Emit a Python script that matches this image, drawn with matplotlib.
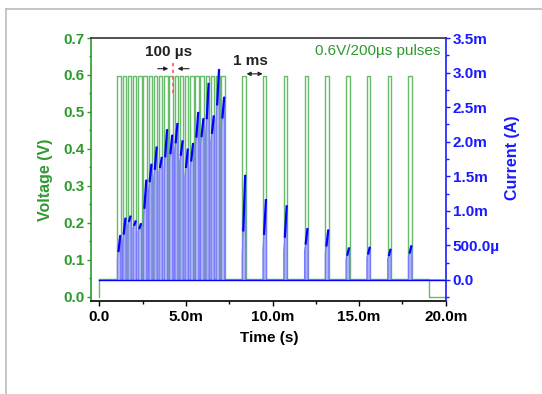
import matplotlib
matplotlib.use('Agg')
import matplotlib.pyplot as plt
from matplotlib.ticker import MultipleLocator, FuncFormatter
from matplotlib.lines import Line2D

plt.rcParams['font.family'] = ['Liberation Sans', 'DejaVu Sans']

# ---------------- data (time in ms) ----------------
pulse_starts_ms = [1.04, 1.34, 1.64, 1.94, 2.24, 2.54, 2.84, 3.14, 3.44, 3.74,
                   4.04, 4.34, 4.64, 4.94, 5.24, 5.54, 5.84, 6.14, 6.44, 6.74,
                   7.04,
                   8.25, 9.45, 10.65, 11.85, 13.05, 14.25, 15.45, 16.65, 17.85]
pulse_width_ms = 0.2
v_base = 0.048
v_high = 0.598
v_off_time_ms = 19.05
v_end = 0.0
t_end_ms = 20.0

# current at start / end of each pulse (mA)
i_start_mA = [0.30, 0.55, 0.80, 0.75, 0.70, 0.85, 1.30, 1.45, 1.55, 1.60,
              1.70, 1.85, 1.70, 1.50, 1.60, 1.90, 1.95, 2.10, 2.00, 2.30,
              2.20,
              0.35, 0.43, 0.41, 0.41, 0.38, 0.30, 0.32, 0.30, 0.33]
i_peak_mA = [0.65, 0.90, 0.93, 0.86, 0.82, 1.45, 1.68, 1.93, 1.78, 2.18,
             2.10, 2.27, 2.02, 1.90, 1.98, 2.43, 2.34, 2.85, 2.38, 3.05,
             2.65,
             1.52, 1.17, 1.08, 0.75, 0.73, 0.47, 0.48, 0.45, 0.50]

x_ticks_ms = [0, 5, 10, 15, 20]
v_ticks = [0.0, 0.1, 0.2, 0.3, 0.4, 0.5, 0.6, 0.7]
i_ticks_mA = [0.0, 0.5, 1.0, 1.5, 2.0, 2.5, 3.0, 3.5]

# ---------------- build traces ----------------
t_v = [0.0, 0.0]
v = [0.0, v_base]
for ts in pulse_starts_ms:
    te = ts + pulse_width_ms
    t_v += [ts, ts, te, te]
    v += [v_base, v_high, v_high, v_base]
t_v += [v_off_time_ms, v_off_time_ms, t_end_ms]
v += [v_base, v_end, v_end]

t_i = [0.0]
cur = [0.0]
for ts, s, p in zip(pulse_starts_ms, i_start_mA, i_peak_mA):
    te = ts + pulse_width_ms
    t_i += [ts, ts, te, te]
    cur += [0.0, s, p, 0.0]
t_i += [t_end_ms]
cur += [0.0]

# ---------------- figure ----------------
W, H = 542, 394
fig = plt.figure(figsize=(W / 100, H / 100), dpi=100)
ax = fig.add_axes([90.7 / W, 1 - 300.7 / H, (445.7 - 90.7) / W, (300.7 - 38) / H])
ax2 = ax.twinx()

green = '#2e9a2e'
vline = '#4caf50'
blue = '#1a1aff'

ax.plot(t_v, v, color=vline, lw=1.0, alpha=0.85, zorder=2)
ax.set_xlim(-0.5, 20.0)
ax.set_ylim(-0.011, 0.7)

ax2.fill_between(t_i, 0, cur, color='#9a9aff', alpha=0.75, lw=0, zorder=2)
ax2.plot(t_i, cur, color='#7a7aff', lw=0.9, zorder=3)
# darker upper part of each current pulse
for ts, s, p in zip(pulse_starts_ms, i_start_mA, i_peak_mA):
    ax2.plot([ts + 0.06, ts + pulse_width_ms - 0.03],
             [s + 0.3 * (p - s), p], color='#0000ff', lw=1.6, zorder=4,
             solid_capstyle='butt')
ax2.plot([0.0, t_end_ms], [0.0, 0.0], color='#0000ff', lw=1.0, zorder=4)
ax2.set_ylim(-0.3, 3.5)

# ticks
ax.set_xticks(x_ticks_ms)
ax.xaxis.set_minor_locator(MultipleLocator(2.5))
ax.xaxis.set_major_formatter(FuncFormatter(lambda x, p: '0.0' if abs(x) < 1e-9 else f'{x:.1f}m'))
ax.set_yticks(v_ticks)
ax.yaxis.set_minor_locator(MultipleLocator(0.05))
ax.yaxis.set_major_formatter(FuncFormatter(lambda y, p: f'{y:.1f}'))
ax2.set_yticks(i_ticks_mA)
ax2.yaxis.set_minor_locator(MultipleLocator(0.25))


def ifmt(y, p):
    if abs(y) < 1e-9:
        return '0.0'
    if y < 1.0:
        return f'{y * 1000:.1f}µ'
    return f'{y:.1f}m'


ax2.yaxis.set_major_formatter(FuncFormatter(ifmt))

ax.tick_params(axis='x', which='major', direction='out', length=3.5, width=1.0,
               pad=3, labelsize=11, colors='black')
ax.tick_params(axis='x', which='minor', direction='out', length=2, width=1.0, colors='black')
ax.tick_params(axis='y', which='major', direction='out', length=3, width=1.0,
               pad=1.5, labelsize=11, colors=green)
ax.tick_params(axis='y', which='minor', direction='out', length=1.8, width=1.0, colors=green)
ax2.tick_params(axis='y', which='major', direction='out', length=3, width=1.0,
                pad=2, labelsize=11, colors=blue)
ax2.tick_params(axis='y', which='minor', direction='out', length=1.8, width=1.0, colors=blue)
for lab in ax.get_xticklabels() + ax.get_yticklabels() + ax2.get_yticklabels():
    lab.set_fontweight('bold')

# spines
for a in (ax, ax2):
    for s in a.spines.values():
        s.set_linewidth(1.2)
ax.spines['left'].set_color(green)
ax.spines['right'].set_visible(False)
ax.spines['top'].set_color('#333333')
ax.spines['bottom'].set_color('black')
ax2.spines['left'].set_visible(False)
ax2.spines['top'].set_visible(False)
ax2.spines['bottom'].set_visible(False)
ax2.spines['right'].set_color(blue)

# axis labels
fig.text(45.5 / W, 1 - 180 / H, 'Voltage (V)', rotation=90, ha='center', va='center',
         fontsize=11.5, fontweight='bold', color=green)
fig.text(513 / W, 1 - 158 / H, 'Current (A)', rotation=90, ha='center', va='center',
         fontsize=11.5, fontweight='bold', color=blue)
fig.text(269.3 / W, 1 - 338 / H, 'Time (s)', ha='center', va='center',
         fontsize=11, fontweight='bold', color='black')

# annotations
ax.text(19.7, 0.665, '0.6V/200µs pulses', ha='right', va='center', fontsize=11,
        color='#2e9a2e')
ax.text(3.98, 0.663, '100 µs', ha='center', va='center', fontsize=11,
        fontweight='bold', color='#222222')
ax.text(8.7, 0.638, '1 ms', ha='center', va='center', fontsize=11,
        fontweight='bold', color='#222222')
ax.plot([4.27, 4.27], [0.552, 0.634], color='#ff5a5a', lw=1.2, ls=(0, (2, 2)), zorder=4)
ax.annotate('', xy=(3.98, 0.617), xytext=(3.37, 0.617),
            arrowprops=dict(arrowstyle='-|>', color='#222222', lw=0.8,
                            mutation_scale=6, shrinkA=0, shrinkB=0))
ax.annotate('', xy=(4.52, 0.617), xytext=(5.18, 0.617),
            arrowprops=dict(arrowstyle='-|>', color='#222222', lw=0.8,
                            mutation_scale=6, shrinkA=0, shrinkB=0))
ax.annotate('', xy=(8.5, 0.603), xytext=(9.43, 0.603),
            arrowprops=dict(arrowstyle='<|-|>', color='#222222', lw=0.8,
                            mutation_scale=6, shrinkA=0, shrinkB=0))

# page frame
fig.add_artist(Line2D([5.5 / W, 5.5 / W], [0, 1 - 8.5 / H], color='#c0c0c0', lw=1.3))
fig.add_artist(Line2D([5.5 / W, 1], [1 - 8.5 / H, 1 - 8.5 / H], color='#c0c0c0', lw=1.3))

fig.savefig('out.png', dpi=100)
